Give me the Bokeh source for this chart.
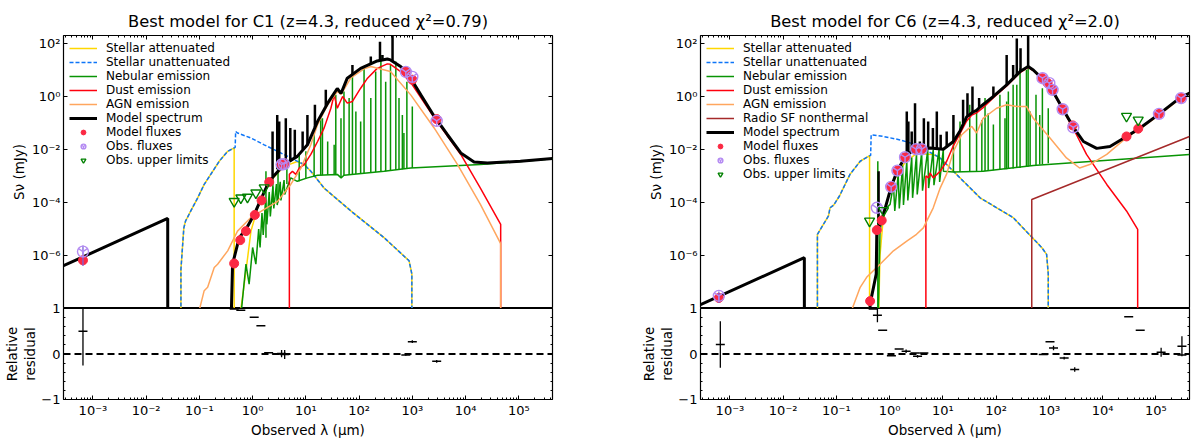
from bokeh.plotting import figure
from bokeh.layouts import row, column
from bokeh.models import (FixedTicker, LogAxis, LinearAxis, Legend, LegendItem,
                          Span, Range1d, CustomJSTickFormatter)
from bokeh.embed import file_html
from bokeh.resources import INLINE
import numpy as np

# ---------------- C1 ----------------
c1_title = "Best model for C1 (z=4.3, reduced χ²=0.79)"

c1_att_wl = [0.045, 0.045, 0.051, 0.055, 0.069, 0.093, 0.123, 0.178, 0.236, 0.34, 0.45, 0.45, 0.60, 0.75,
             0.93, 1.24, 1.65, 2.5, 3.9, 6.9, 9.3, 12.4, 22, 70, 295, 750, 870, 980, 980]
c1_att_fl = [1e-12, 3e-7, 1.1e-5, 2e-5, 4.8e-5, 1.5e-4, 4.8e-4, 1.5e-3, 3.6e-3, 8.5e-3, 0.0115, 1e-12, 9e-9, 2.6e-7,
             8.3e-6, 6.3e-5, 2.7e-4, 9e-4, 2.3e-3, 3.5e-3, 2.7e-3, 1.5e-3, 3.5e-4, 4.8e-5, 4.7e-6, 8.3e-7, 6.3e-7, 2e-7, 1e-12]

c1_unatt_wl = [0.045, 0.045, 0.051, 0.055, 0.069, 0.093, 0.123, 0.178, 0.236, 0.34, 0.47, 0.48, 0.52, 0.93,
               1.65, 2.95, 5.2, 9.3, 12.4, 22, 70, 295, 750, 870, 980, 980]
c1_unatt_fl = [1e-12, 3e-7, 1.1e-5, 2e-5, 4.8e-5, 1.5e-4, 4.8e-4, 1.5e-3, 3.6e-3, 8.5e-3, 0.012, 0.048, 0.042, 0.027,
               0.015, 8.5e-3, 4.8e-3, 2.7e-3, 1.5e-3, 3.5e-4, 4.8e-5, 4.7e-6, 8.3e-7, 6.3e-7, 2e-7, 1e-12]

c1_neb_wl = [0.6, 0.75, 0.86, 1.0, 1.15, 1.3, 1.38, 1.5, 1.58, 1.75, 1.85, 2.05, 2.15, 2.4, 2.5, 2.8, 2.9,
             3.3, 3.4, 3.9, 4.0, 5.2, 6.9, 10.7, 16.6, 39, 46, 52, 295, 933, 19000, 1.07e5, 4.3e5]
c1_neb_fl = [5e-9, 4.7e-7, 8.3e-8, 2e-6, 4.7e-7, 1e-5, 2e-6, 4e-5, 6e-6, 1.2e-4, 1.5e-5, 2.5e-4, 3e-5, 4e-4,
             6e-5, 5e-4, 8e-5, 6e-4, 1.2e-4, 7e-4, 2e-4, 8.5e-4, 6.3e-4, 8.5e-4, 1.07e-3, 1.15e-3, 8.5e-4,
             1.07e-3, 1.5e-3, 2.0e-3, 2.7e-3, 3.5e-3, 4.5e-3]

# nebular emission lines: wavelength, continuum level, peak
c1_nline_wl = [1.78, 2.4, 3.0, 4.4, 7.5, 10, 14.3, 19, 20.5, 25.7, 34, 36.5, 45.7, 52, 65, 75, 87, 107, 124,
               166, 205, 257, 316, 389, 490, 562, 650, 695, 790, 1000]
c1_nline_base = [4.7e-6, 1e-4, 1e-4, 5e-4, 6.3e-4, 8e-4, 1e-3, 1.05e-3, 1.07e-3, 1.1e-3, 1.12e-3, 1.13e-3, 9e-4,
                 1.07e-3, 1.1e-3, 1.15e-3, 1.2e-3, 1.25e-3, 1.3e-3, 1.35e-3, 1.4e-3, 1.45e-3, 1.5e-3, 1.6e-3,
                 1.7e-3, 1.75e-3, 1.8e-3, 1.85e-3, 1.9e-3, 2.0e-3]
c1_nline_top = [1.5e-3, 1.2e-3, 2e-3, 2.5e-3, 6.5e-3, 8.5e-3, 0.036, 0.15, 0.15, 0.02, 0.015, 1.15, 0.15, 1.55,
                0.87, 6.6, 0.27, 0.115, 11.5, 0.87, 8.7, 37, 3.6, 15.5, 21, 0.87, 0.2, 0.042, 3.6, 0.42]

c1_dust_wl = [4.9, 4.9, 5.6, 6.5, 7.5, 9.3, 12.4, 16.6, 22, 29.5, 34, 39, 49, 60, 75, 107, 144, 219, 339, 389,
              603, 1000, 2570, 8130, 19000, 45700, 45700]
c1_dust_fl = [1e-12, 1.15e-3, 1.5e-3, 1.15e-3, 2e-3, 2.7e-3, 6.5e-3, 0.02, 0.064, 0.36, 1.15, 0.36, 1.0, 0.56,
              0.65, 2.05, 4.9, 11.5, 17, 16.4, 8.7, 2.75, 0.16, 6.5e-3, 3.5e-4, 1.5e-5, 1e-12]

c1_agn_wl = [0.10, 0.123, 0.143, 0.19, 0.22, 0.34, 0.52, 0.93, 1.65, 2.95, 5.2, 8.1, 12.4, 16.6, 25.7, 39, 46,
             70, 124, 166, 389, 933, 2570, 7080, 19000, 45700, 45700]
c1_agn_fl = [9e-9, 4.7e-8, 6.3e-8, 3.5e-7, 4.7e-7, 1.5e-6, 8.3e-6, 2.7e-5, 5.5e-5, 1.1e-4, 4.8e-4, 2e-3, 0.015,
             0.087, 0.49, 1.55, 1.2, 5.0, 11, 13.5, 8.7, 1.15, 0.065, 2.7e-3, 8.5e-5, 2.8e-6, 1e-12]

c1_model_wl = [2.8e-4, 0.0254, 0.0255, 0.399, 0.40, 0.42, 0.56, 0.75, 1.07, 1.43, 2.04, 3.9, 6.9, 10.7, 16.6,
               25.7, 38.9, 45.7, 60, 107, 219, 339, 389, 603, 755, 933, 1445, 2570, 4570, 8130, 14450, 25700,
               1.07e5, 4.3e5]
c1_model_fl = [4.1e-7, 2.5e-5, 1e-12, 1e-12, 1e-8, 4.7e-7, 4.7e-6, 9.8e-6, 3.5e-5, 1.3e-4, 6.3e-4, 2.7e-3,
               5.5e-3, 0.015, 0.115, 0.56, 2.0, 1.3, 4.9, 11.5, 21.9, 26, 24, 13.5, 8.7, 4.9, 1.15, 0.18, 0.036,
               7.4e-3, 3.4e-3, 3.1e-3, 3.6e-3, 4.6e-3]

# emission lines in the total model spectrum
c1_mline_wl = [2.37, 2.9, 3.16, 4.2, 5.1, 6.2, 8.7, 10.7, 14.8, 23.7, 75, 166, 247, 275, 425]
c1_mline_base = [1e-3, 1.8e-3, 2e-3, 2.8e-3, 3.5e-3, 5e-3, 0.01, 0.015, 0.07, 0.45, 7.0, 17.5, 23, 24, 22]
c1_mline_top = [0.048, 0.2, 0.115, 0.15, 0.065, 0.056, 0.048, 0.2, 0.49, 1.78, 15.5, 32, 117, 37, 1000]

c1_modflux_wl = [6.5e-4, 0.45, 0.585, 0.75, 1.10, 1.47, 2.05, 3.5, 3.9, 755, 1000, 2870]
c1_modflux_fl = [6.6e-7, 5e-7, 3.8e-6, 8.3e-6, 3.4e-5, 1.2e-4, 5.9e-4, 2.7e-3, 2.8e-3, 8.7, 4.3, 0.14]

c1_obs_wl = [6.5e-4, 3.5, 3.9, 755, 1000, 2870]
c1_obs_fl = [1.4e-6, 2.7e-3, 2.8e-3, 8.5, 5.5, 0.12]
c1_obs_err = [1.0e-6, 1.5e-4, 1.5e-4, 0.5, 0.4, 0.01]

c1_ul_wl = [0.45, 0.6, 0.8, 1.15, 1.65]
c1_ul_fl = [1.1e-4, 1.5e-4, 1.6e-4, 2.3e-4, 3.6e-4]

c1_res_wl = [6.5e-4, 0.45, 0.6, 1.07, 1.43, 2.0, 2.8, 3.5, 4.0, 755, 1000, 2870]
c1_res = [0.5, 0.99, 0.96, 0.81, 0.62, 0.03, 0.0, 0.01, -0.01, -0.02, 0.27, -0.16]
c1_res_err = [0.75, 0, 0, 0, 0, 0, 0, 0.08, 0.1, 0.02, 0.03, 0.03]

# ---------------- C6 ----------------
c6_title = "Best model for C6 (z=4.3, reduced χ²=2.0)"

c6_att_wl = [0.044, 0.044, 0.071, 0.076, 0.089, 0.115, 0.18, 0.28, 0.40, 0.42, 0.42, 0.62, 0.66, 0.75, 1.0,
             1.4, 2.0, 3.2, 6.5, 8.9, 15.8, 50, 209, 720, 890, 955, 955]
c6_att_fl = [1e-12, 6.3e-6, 3.1e-5, 6.3e-5, 8e-5, 1.8e-4, 1.15e-3, 3.6e-3, 5.5e-3, 5.8e-3, 1e-12, 5e-9, 1e-6,
             2e-5, 3e-4, 1.2e-3, 3.5e-3, 7e-3, 6.5e-3, 4.8e-3, 1.5e-3, 1.5e-4, 2.7e-5, 2e-6, 1.1e-6, 2e-7, 1e-12]

c6_unatt_wl = [0.044, 0.044, 0.071, 0.076, 0.089, 0.115, 0.18, 0.28, 0.40, 0.44, 0.45, 0.77, 1.57, 3.2, 8.9,
               15.8, 50, 209, 720, 890, 955, 955]
c6_unatt_fl = [1e-12, 6.3e-6, 3.1e-5, 6.3e-5, 8e-5, 1.8e-4, 1.15e-3, 3.6e-3, 5.5e-3, 6e-3, 0.036, 0.031, 0.023,
               0.015, 4.8e-3, 1.5e-3, 1.5e-4, 2.7e-5, 2e-6, 1.1e-6, 2e-7, 1e-12]

c6_neb_wl = [0.6, 0.66, 0.77, 1.02, 1.18, 1.25, 1.45, 1.52, 1.75, 1.82, 2.1, 2.2, 2.6, 2.7, 3.2, 3.3, 4.0,
             4.15, 5.2, 5.4, 6.6, 6.8, 8.5, 8.7, 10.2, 10.25, 15.8, 57, 500, 4.3e5]
c6_neb_fl = [1e-9, 8.3e-6, 4.8e-5, 8.5e-5, 4.8e-4, 4.8e-5, 1.2e-3, 6e-5, 2.5e-3, 8e-5, 3.6e-3, 1.2e-4, 5e-3,
             1.5e-4, 6.5e-3, 2e-4, 8e-3, 2.8e-4, 9.5e-3, 3.5e-4, 0.01, 4.5e-4, 0.0102, 6e-4, 0.0102, 1.5e-3,
             1.4e-3, 1.5e-3, 2.5e-3, 6.5e-3]

c6_nline_wl = [0.6, 15.8, 21, 32, 43, 54, 62, 71, 89, 118, 147, 158, 170, 209, 245, 282, 372, 400, 436, 562,
               661, 741, 955]
c6_nline_base = [1e-9, 1.4e-3, 1.4e-3, 1.45e-3, 1.5e-3, 1.5e-3, 1.55e-3, 1.6e-3, 1.65e-3, 1.7e-3, 1.8e-3,
                 1.8e-3, 1.85e-3, 1.9e-3, 2e-3, 2e-3, 2.2e-3, 2.3e-3, 2.4e-3, 2.6e-3, 2.7e-3, 2.8e-3, 3e-3]
c6_nline_top = [3.6e-3, 0.048, 0.115, 0.49, 0.32, 0.13, 0.87, 0.23, 0.087, 1.15, 0.15, 0.65, 1.55, 2.75, 2.75,
                11.5, 10, 11.5, 0.27, 1.15, 0.2, 2.05, 0.36]

c6_dust_wl = [4.8, 4.8, 5.4, 5.75, 6.6, 8.9, 11.8, 15.8, 21, 28, 35, 43, 57, 89, 158, 282, 400, 500, 770, 1180,
              1820, 2820, 5000, 12000, 28200, 45700, 45700]
c6_dust_fl = [1e-12, 1e-3, 8.5e-4, 1.3e-3, 8.5e-4, 1.5e-3, 3.6e-3, 0.014, 0.04, 0.12, 0.2, 0.24, 0.38, 0.9, 2.5,
              8.0, 12.5, 9.5, 4.1, 1.4, 0.3, 0.062, 6.5e-3, 4.8e-4, 4.8e-5, 9.7e-6, 1e-12]

c6_agn_wl = [0.195, 0.28, 0.37, 0.66, 1.18, 2.1, 3.2, 4.3, 6.6, 8.9, 11.8, 15.8, 22.6, 30, 35, 43, 57, 102,
             158, 245, 372, 500, 1030, 2100, 3700, 5750, 12000, 28200, 50000, 1.2e5, 2.8e5, 4.3e5]
c6_agn_fl = [9e-9, 6.3e-8, 1.5e-7, 4.7e-7, 1.5e-6, 3.5e-6, 6.3e-6, 1.1e-5, 6.3e-5, 3.5e-4, 1.2e-3, 8.5e-3,
             0.036, 0.06, 0.074, 0.042, 0.15, 0.36, 0.49, 0.42, 0.42, 0.15, 0.027, 4.8e-3, 2e-3, 2.7e-3, 6.5e-3,
             0.028, 0.058, 0.21, 0.8, 1.25]

c6_radio_wl = [468, 468, 4.3e5]
c6_radio_fl = [1e-12, 1.3e-4, 0.031]

c6_model_wl = [2.8e-4, 0.025, 0.0251, 0.42, 0.43, 0.56, 0.575, 0.71, 1.07, 1.40, 1.95, 2.5, 3.15, 4.0, 5.75,
               10.2, 15.8, 21, 28, 37, 43, 50, 89, 158, 282, 400, 500, 770, 1180, 1820, 2820, 4370, 7760, 13800,
               28200, 50000, 1.2e5, 2.8e5, 4.3e5]
c6_model_fl = [1.4e-8, 8.3e-7, 1e-12, 1e-12, 1.5e-8, 2e-7, 9.1e-6, 2.1e-5, 3.9e-4, 1.6e-3, 5.1e-3, 8e-3,
               0.0102, 0.0102, 0.0114, 0.0102, 0.02, 0.05, 0.17, 0.26, 0.3, 0.4, 1.0, 2.75, 8.7, 13.5, 10, 4.3,
               1.5, 0.32, 0.07, 0.02, 0.011, 0.013, 0.031, 0.063, 0.23, 0.87, 1.33]

c6_mline_wl = [0.62, 2.1, 2.25, 2.6, 3.0, 3.7, 4.4, 5.3, 6.5, 7.7, 9.1, 11.8, 15.8, 24, 29, 36, 48, 89, 158,
               209, 245, 288, 400]
c6_mline_base = [1.5e-5, 5e-3, 6e-3, 8e-3, 9.5e-3, 0.0102, 0.0105, 0.011, 0.011, 0.0108, 0.0104, 0.012, 0.02,
                 0.1, 0.18, 0.25, 0.38, 1.0, 2.75, 4.5, 6.5, 9, 13.5]
c6_mline_top = [1.5e-3, 0.27, 0.115, 0.048, 0.56, 0.02, 0.15, 0.115, 0.064, 0.27, 0.036, 0.048, 0.2, 0.75,
                1.33, 2.4, 0.87, 2.4, 37, 15.5, 155, 66, 1000]

c6_modflux_wl = [6.2e-4, 0.43, 0.575, 0.71, 1.07, 1.40, 1.95, 3.15, 4.0, 740, 930, 1150, 1780, 2750, 28200,
                 46800, 1.15e5, 3.0e5]
c6_modflux_fl = [2.5e-8, 1.9e-8, 9.1e-6, 2.1e-5, 3.9e-4, 1.6e-3, 5.1e-3, 0.0102, 0.0102, 4.9, 3.2, 1.78, 0.33,
                 0.081, 0.031, 0.061, 0.22, 0.87]

c6_obs_wl = [6.2e-4, 0.575, 1.07, 1.40, 1.95, 3.15, 4.0, 745, 1000, 1150, 1780, 2820, 1.15e5, 3.0e5]
c6_obs_fl = [3e-8, 6.3e-5, 3.9e-4, 1.6e-3, 5.1e-3, 0.0102, 0.0102, 4.9, 3.2, 1.78, 0.33, 0.068, 0.22, 0.87]
c6_obs_err = [1.4e-8, 4e-6, 2e-5, 8e-5, 2.5e-4, 5e-4, 5e-4, 0.3, 0.2, 0.1, 0.03, 0.006, 0.02, 0.1]

c6_ul_wl = [0.42, 0.77, 28200, 46800]
c6_ul_fl = [2e-5, 5e-5, 0.18, 0.13]

c6_res_wl = [6.6e-4, 0.49, 0.59, 0.74, 1.08, 1.51, 2.04, 3.0, 3.35, 4.4, 770, 1030, 1200, 1900, 3000, 31000,
             51000, 1.26e5, 3.1e5, 3.1e5]
c6_res = [0.21, 0.99, 0.85, 0.52, -0.04, 0.11, 0.06, 0.02, -0.05, 0.02, -0.01, 0.27, 0.13, -0.09, -0.34, 0.82,
          0.52, 0.04, 0.17, -0.02]
c6_res_err = [0.51, 0, 0.15, 0, 0, 0, 0.04, 0, 0.03, 0, 0, 0, 0.05, 0.03, 0.05, 0, 0, 0.1, 0.22, 0]

# ---------------- styling ----------------
X_RANGE = (2.8e-4, 4.3e5)
Y_RANGE = (1e-8, 200)
FONT = "DejaVu Sans"
C_ATT, C_UNATT, C_NEB, C_DUST = "#ffd700", "#0d75f8", "#089404", "#ff000d"
C_AGN, C_RADIO, C_MODFLUX = "#ffa65e", "#a52a2a", "#fb2943"
C_OBS, C_OBS_ERR, C_UL = "#b48af2", "#7b62d8", "#008000"
OVERLAP = 9   # residual canvas reaches this far up into the upper panel so its "1" is not cut

log_fmt = CustomJSTickFormatter(code="""
    const sup = {'-': '\u207b', '0': '\u2070', '1': '\u00b9', '2': '\u00b2', '3': '\u00b3', '4': '\u2074',
                 '5': '\u2075', '6': '\u2076', '7': '\u2077', '8': '\u2078', '9': '\u2079'};
    const e = Math.round(Math.log10(tick));
    return '10' + String(e).split('').map(c => sup[c]).join('');
""")
res_fmt = CustomJSTickFormatter(code="return tick < 0 ? '\u2212' + (-tick) : '' + tick;")
blank_fmt = CustomJSTickFormatter(code="return '';")


def x_ticker():
    return FixedTicker(ticks=[10.0 ** e for e in range(-3, 6)],
                       minor_ticks=[k * 10.0 ** e for e in range(-4, 6) for k in range(2, 10)])


def style_axis(ax, label=None):
    ax.major_tick_in = 4
    ax.major_tick_out = 0
    ax.minor_tick_in = 2
    ax.minor_tick_out = 0
    ax.axis_line_color = None
    ax.major_label_text_font = FONT
    ax.major_label_text_font_size = "13px"
    ax.major_label_text_color = "black"
    ax.major_label_standoff = 3
    ax.axis_label_text_font = FONT
    ax.axis_label_text_font_size = "13.5px"
    ax.axis_label_text_font_style = "normal"
    ax.axis_label_text_color = "black"
    ax.axis_label_standoff = 2
    if label:
        ax.axis_label = label


def sed_figure(title, att, unatt, neb, nline, dust, agn, radio, model, mline,
               modflux, obs, ul, border_left, border_right):
    p = figure(title=title, x_axis_type="log", y_axis_type="log", x_axis_location="above",
               x_range=Range1d(*X_RANGE), y_range=Range1d(*Y_RANGE),
               frame_width=489, frame_height=273,
               min_border_left=border_left, min_border_right=border_right,
               min_border_top=35, min_border_bottom=0,
               output_backend="svg", toolbar_location=None)
    p.title.align = "center"
    p.title.text_font = FONT
    p.title.text_font_size = "16.3px"
    p.title.text_font_style = "normal"
    p.title.text_color = "black"
    p.grid.visible = False
    p.outline_line_color = "black"
    p.outline_line_width = 1.2

    p.xaxis.ticker = x_ticker()
    p.xaxis.formatter = blank_fmt
    style_axis(p.xaxis[0])
    y_ticks = [1e-6, 1e-4, 1e-2, 1, 1e2]
    p.yaxis.ticker = FixedTicker(ticks=y_ticks, minor_ticks=[])
    p.yaxis.formatter = log_fmt
    style_axis(p.yaxis[0], "Sν (mJy)")
    right = LogAxis(ticker=FixedTicker(ticks=y_ticks, minor_ticks=[]), formatter=blank_fmt)
    style_axis(right)
    right.major_label_standoff = 0
    p.add_layout(right, "right")

    items = []
    r = p.line(att[0], att[1], line_color=C_ATT, line_width=1.5)
    items.append(LegendItem(label="Stellar attenuated", renderers=[r]))
    r = p.line(unatt[0], unatt[1], line_color=C_UNATT, line_width=1.5, line_dash="4 2")
    items.append(LegendItem(label="Stellar unattenuated", renderers=[r]))
    r = p.line(neb[0], neb[1], line_color=C_NEB, line_width=1.5)
    p.segment(nline[0], nline[1], nline[0], nline[2], line_color=C_NEB, line_width=1.5)
    items.append(LegendItem(label="Nebular emission", renderers=[r]))
    r = p.line(dust[0], dust[1], line_color=C_DUST, line_width=1.5)
    items.append(LegendItem(label="Dust emission", renderers=[r]))
    r = p.line(agn[0], agn[1], line_color=C_AGN, line_width=1.5)
    items.append(LegendItem(label="AGN emission", renderers=[r]))
    if radio is not None:
        r = p.line(radio[0], radio[1], line_color=C_RADIO, line_width=1.5)
        items.append(LegendItem(label="Radio SF nonthermal", renderers=[r]))
    p.segment(mline[0], mline[1], mline[0], mline[2], line_color="black", line_width=2.5)
    r = p.line(model[0], model[1], line_color="black", line_width=3)
    items.append(LegendItem(label="Model spectrum", renderers=[r]))

    r = p.scatter(modflux[0], modflux[1], marker="circle", size=9,
                  fill_color=C_MODFLUX, line_color=C_MODFLUX)
    items.append(LegendItem(label="Model fluxes", renderers=[r]))
    ow, of, oe = np.array(obs[0]), np.array(obs[1]), np.array(obs[2])
    p.segment(ow, of - oe, ow, of + oe, line_color=C_OBS_ERR, line_width=1.3)
    r = p.scatter(ow, of, marker="circle_y", size=11, fill_color=None,
                  line_color=C_OBS, line_width=1.4)
    items.append(LegendItem(label="Obs. fluxes", renderers=[r]))
    r = p.scatter(ul[0], ul[1], marker="inverted_triangle", size=10, fill_color=None,
                  line_color=C_UL, line_width=1.4)
    items.append(LegendItem(label="Obs. upper limits", renderers=[r]))

    legend = Legend(items=items, location="top_left", margin=4, padding=2, spacing=0,
                    glyph_width=28, glyph_height=12, label_height=12, label_standoff=9,
                    label_text_font=FONT, label_text_font_size="12px", label_text_color="black",
                    background_fill_alpha=0, border_line_alpha=0)
    p.add_layout(legend)
    return p


def residual_figure(res_wl, res, res_err, border_left, border_right):
    r = figure(x_axis_type="log", x_range=Range1d(*X_RANGE), y_range=Range1d(-1, 1),
               frame_width=489, frame_height=91,
               min_border_left=border_left, min_border_right=border_right,
               min_border_top=OVERLAP, min_border_bottom=31,
               margin=(-OVERLAP, 0, 0, 0),
               output_backend="svg", toolbar_location=None)
    r.border_fill_alpha = 0
    r.grid.visible = False
    r.outline_line_color = "black"
    r.outline_line_width = 1.2

    r.xaxis.ticker = x_ticker()
    r.xaxis.formatter = log_fmt
    style_axis(r.xaxis[0], "Observed λ (μm)")
    r.xaxis.axis_label_standoff = 1

    minors = [-0.8, -0.6, -0.4, -0.2, 0.2, 0.4, 0.6, 0.8]
    r.yaxis.ticker = FixedTicker(ticks=[-1, 0, 1], minor_ticks=minors)
    r.yaxis.formatter = res_fmt
    style_axis(r.yaxis[0], "residual")
    r.yaxis.axis_label_standoff = 0
    outer = LinearAxis(ticker=FixedTicker(ticks=[]), formatter=blank_fmt, axis_label="Relative")
    style_axis(outer)
    outer.major_label_standoff = 0
    outer.axis_label_standoff = 0
    r.add_layout(outer, "left")
    right = LinearAxis(ticker=FixedTicker(ticks=[-1, 0, 1], minor_ticks=minors), formatter=blank_fmt)
    style_axis(right)
    right.major_label_standoff = 0
    r.add_layout(right, "right")

    r.add_layout(Span(location=0, dimension="width", line_color="black",
                      line_dash="7 4", line_width=1.8))
    w, v, e = np.array(res_wl), np.array(res), np.array(res_err)
    r.segment(w, v - e, w, v + e, line_color="black", line_width=1.3)
    r.scatter(w, v, marker="dash", size=9, line_color="black", line_width=1.5)
    return r


c1_top = sed_figure(c1_title, (c1_att_wl, c1_att_fl), (c1_unatt_wl, c1_unatt_fl),
                    (c1_neb_wl, c1_neb_fl), (c1_nline_wl, c1_nline_base, c1_nline_top),
                    (c1_dust_wl, c1_dust_fl), (c1_agn_wl, c1_agn_fl), None,
                    (c1_model_wl, c1_model_fl), (c1_mline_wl, c1_mline_base, c1_mline_top),
                    (c1_modflux_wl, c1_modflux_fl), (c1_obs_wl, c1_obs_fl, c1_obs_err),
                    (c1_ul_wl, c1_ul_fl), 59, 20)
c1_bottom = residual_figure(c1_res_wl, c1_res, c1_res_err, 59, 20)

c6_top = sed_figure(c6_title, (c6_att_wl, c6_att_fl), (c6_unatt_wl, c6_unatt_fl),
                    (c6_neb_wl, c6_neb_fl), (c6_nline_wl, c6_nline_base, c6_nline_top),
                    (c6_dust_wl, c6_dust_fl), (c6_agn_wl, c6_agn_fl), (c6_radio_wl, c6_radio_fl),
                    (c6_model_wl, c6_model_fl), (c6_mline_wl, c6_mline_base, c6_mline_top),
                    (c6_modflux_wl, c6_modflux_fl), (c6_obs_wl, c6_obs_fl, c6_obs_err),
                    (c6_ul_wl, c6_ul_fl), 128, 2)
c6_bottom = residual_figure(c6_res_wl, c6_res, c6_res_err, 128, 2)

layout = row(column(c1_top, c1_bottom), column(c6_top, c6_bottom))
open("out.html", "w").write(file_html(layout, INLINE))
